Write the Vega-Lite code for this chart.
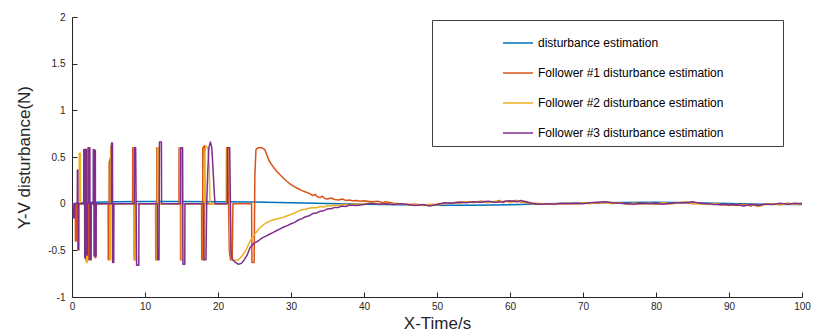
{
"$schema": "https://vega.github.io/schema/vega-lite/v6.json",
"width": 730, "height": 280,
"autosize": {"type": "none"},
"padding": {"left": 72, "top": 17, "right": 12, "bottom": 37},
"background": "white",
"config": {"view": {"stroke": null}, "font": "Liberation Sans"},
"datasets": {
"est": [{"t":0,"v":0},{"t":1,"v":0.008},{"t":3,"v":0.015},{"t":6,"v":0.02},{"t":10,"v":0.022},{"t":15,"v":0.022},{"t":20,"v":0.02},{"t":25,"v":0.017},{"t":30,"v":0.01},{"t":35,"v":0.003},{"t":40,"v":-0.005},{"t":45,"v":-0.012},{"t":50,"v":-0.017},{"t":55,"v":-0.018},{"t":60,"v":-0.012},{"t":65,"v":-0.002},{"t":70,"v":0.008},{"t":75,"v":0.013},{"t":80,"v":0.014},{"t":85,"v":0.01},{"t":90,"v":0.002},{"t":95,"v":-0.007},{"t":100,"v":-0.01}],
"f1": [{"t":0,"v":0},{"t":0.45,"v":0},{"t":0.47,"v":-0.4},{"t":0.62,"v":-0.4},{"t":0.64,"v":0},
{"t":1.75,"v":0},{"t":1.77,"v":0.58},{"t":1.85,"v":0.58},{"t":1.87,"v":-0.6},{"t":1.95,"v":-0.6},{"t":1.97,"v":0},
{"t":2.15,"v":0},{"t":2.17,"v":0.6},{"t":2.27,"v":0.6},{"t":2.29,"v":-0.6},{"t":2.42,"v":-0.6},{"t":2.44,"v":0},
{"t":3.05,"v":0},{"t":3.07,"v":0.57},{"t":3.15,"v":0.57},{"t":3.17,"v":-0.58},{"t":3.25,"v":-0.58},{"t":3.27,"v":0},
{"t":4.95,"v":0},{"t":4.97,"v":-0.6},{"t":5.07,"v":-0.6},{"t":5.09,"v":0.44},{"t":5.3,"v":0.5},{"t":5.36,"v":0.62},{"t":5.38,"v":0},
{"t":8.3,"v":0},{"t":8.32,"v":0.6},{"t":8.5,"v":0.6},{"t":8.52,"v":-0.6},{"t":8.65,"v":-0.6},{"t":8.67,"v":0},
{"t":11.45,"v":0},{"t":11.47,"v":-0.6},{"t":11.6,"v":-0.6},{"t":11.62,"v":0.6},{"t":11.78,"v":0.6},{"t":11.8,"v":0},
{"t":14.65,"v":0},{"t":14.67,"v":0.6},{"t":14.85,"v":0.6},{"t":14.87,"v":-0.6},{"t":15.05,"v":-0.6},{"t":15.07,"v":0},
{"t":17.75,"v":0},{"t":17.77,"v":-0.6},{"t":17.9,"v":-0.6},{"t":17.92,"v":0.6},{"t":18.15,"v":0.62},{"t":18.2,"v":0},
{"t":21.15,"v":0},{"t":21.17,"v":0.6},{"t":21.35,"v":0.6},{"t":21.45,"v":0},{"t":21.55,"v":-0.5},{"t":21.7,"v":-0.6},{"t":21.95,"v":-0.6},{"t":22.0,"v":-0.3},{"t":22.05,"v":0},
{"t":24.6,"v":0},{"t":24.65,"v":-0.63},{"t":24.95,"v":-0.63},{"t":25.05,"v":0.3},{"t":25.2,"v":0.58},{"t":25.5,"v":0.6},{"t":26.0,"v":0.6},{"t":26.4,"v":0.58},{"t":26.7,"v":0.52},{"t":27.0,"v":0.46},{"t":27.5,"v":0.4},{"t":28.0,"v":0.35},{"t":28.5,"v":0.31},{"t":29,"v":0.27},{"t":29.5,"v":0.235},{"t":30,"v":0.205},{"t":30.5,"v":0.18},{"t":31,"v":0.16},{"t":31.5,"v":0.14},{"t":32,"v":0.125},{"t":32.5,"v":0.11},{"t":33,"v":0.085},{"t":33.3,"v":0.1},{"t":33.6,"v":0.075},{"t":34,"v":0.065},{"t":34.3,"v":0.08},{"t":34.6,"v":0.055},{"t":35,"v":0.05},{"t":35.5,"v":0.06},{"t":36,"v":0.045},{"t":36.5,"v":0.04},{"t":37,"v":0.05},{"t":37.5,"v":0.035},{"t":38,"v":0.04},{"t":38.5,"v":0.03},{"t":39,"v":0.035},{"t":39.5,"v":0.025},
{"t":40,"v":0.03},{"t":41,"v":0.02},{"t":42,"v":0.025},{"t":42.5,"v":0.01},{"t":43,"v":0.02},{"t":44,"v":0.005},{"t":45,"v":0},{"t":46,"v":-0.01},{"t":47,"v":-0.005},{"t":48,"v":-0.015},{"t":49,"v":-0.01},{"t":50,"v":-0.005},{"t":51,"v":0.005},{"t":52,"v":0.01},{"t":53,"v":0.015},{"t":54,"v":0.02},{"t":55,"v":0.015},{"t":56,"v":0.025},{"t":57,"v":0.02},{"t":58,"v":0.015},{"t":58.5,"v":0.035},{"t":59,"v":0.01},{"t":59.5,"v":0.03},{"t":60,"v":0.015},{"t":60.5,"v":0.03},{"t":61,"v":0.035},{"t":61.5,"v":0.015},{"t":62,"v":0.025},{"t":63,"v":0.005},{"t":64,"v":0},{"t":65,"v":-0.005},{"t":66,"v":0},{"t":67,"v":-0.005},{"t":68,"v":0.005},{"t":69,"v":0},{"t":70,"v":0.005},{"t":71,"v":0.01},{"t":72,"v":0.005},{"t":73,"v":0.02},{"t":74,"v":0.005},{"t":75,"v":0.01},{"t":76,"v":0},{"t":77,"v":0.005},{"t":78,"v":0},{"t":79,"v":0.005},{"t":80,"v":-0.005},{"t":81,"v":0.005},{"t":82,"v":0},{"t":83,"v":0.01},{"t":84,"v":0.015},{"t":85,"v":0},{"t":86,"v":0.005},{"t":87,"v":-0.005},{"t":88,"v":0},{"t":89,"v":-0.015},{"t":90,"v":-0.005},{"t":91,"v":-0.02},{"t":92,"v":-0.005},{"t":93,"v":-0.025},{"t":93.5,"v":-0.005},{"t":94,"v":-0.02},{"t":95,"v":-0.005},{"t":96,"v":0},{"t":97,"v":-0.01},{"t":98,"v":0.005},{"t":99,"v":-0.005},{"t":100,"v":0.005}],
"f2": [{"t":0,"v":0},{"t":0.85,"v":0},{"t":0.87,"v":-0.5},{"t":0.97,"v":-0.5},{"t":0.99,"v":0.54},{"t":1.15,"v":0.54},{"t":1.17,"v":0},
{"t":1.95,"v":0},{"t":1.97,"v":-0.63},{"t":2.08,"v":-0.63},{"t":2.1,"v":0},
{"t":5.2,"v":0},{"t":5.22,"v":-0.6},{"t":5.3,"v":-0.6},{"t":5.32,"v":0.55},{"t":5.42,"v":0.6},{"t":5.44,"v":0},
{"t":8.45,"v":0},{"t":8.47,"v":0.6},{"t":8.6,"v":0.6},{"t":8.62,"v":-0.6},{"t":8.75,"v":-0.6},{"t":8.77,"v":0},
{"t":11.55,"v":0},{"t":11.57,"v":-0.6},{"t":11.7,"v":-0.6},{"t":11.72,"v":0.6},{"t":11.88,"v":0.6},{"t":11.9,"v":0},
{"t":14.75,"v":0},{"t":14.77,"v":0.6},{"t":14.95,"v":0.6},{"t":14.97,"v":-0.6},{"t":15.1,"v":-0.6},{"t":15.12,"v":0},
{"t":18.0,"v":0},{"t":18.02,"v":-0.6},{"t":18.15,"v":-0.6},{"t":18.2,"v":0.55},{"t":18.35,"v":0.62},{"t":18.6,"v":0.6},{"t":18.8,"v":0.4},{"t":18.9,"v":0},
{"t":21.25,"v":0},{"t":21.27,"v":0.6},{"t":21.5,"v":0.6},{"t":21.6,"v":0},{"t":21.7,"v":-0.5},{"t":21.9,"v":-0.6},{"t":22.3,"v":-0.61},{"t":22.8,"v":-0.6},{"t":23.3,"v":-0.56},{"t":23.8,"v":-0.5},{"t":24.4,"v":-0.4},{"t":25,"v":-0.33},{"t":25.5,"v":-0.28},{"t":26,"v":-0.24},{"t":26.5,"v":-0.21},{"t":27,"v":-0.19},{"t":27.5,"v":-0.175},{"t":28,"v":-0.165},{"t":28.5,"v":-0.155},{"t":29,"v":-0.145},{"t":29.5,"v":-0.13},{"t":30,"v":-0.115},{"t":30.5,"v":-0.1},{"t":31,"v":-0.08},{"t":31.5,"v":-0.065},{"t":32,"v":-0.06},{"t":32.5,"v":-0.05},{"t":33,"v":-0.04},{"t":33.5,"v":-0.045},{"t":34,"v":-0.03},{"t":34.5,"v":-0.035},{"t":35,"v":-0.02},{"t":35.5,"v":-0.025},{"t":36,"v":-0.015},{"t":36.5,"v":-0.02},{"t":37,"v":-0.01},{"t":38,"v":-0.01},{"t":39,"v":-0.005},
{"t":40,"v":0},{"t":41,"v":0.01},{"t":42,"v":-0.005},{"t":43,"v":0.005},{"t":44,"v":-0.005},{"t":45,"v":0},{"t":46,"v":-0.015},{"t":47,"v":-0.01},{"t":48,"v":-0.02},{"t":49,"v":-0.01},{"t":50,"v":-0.015},{"t":51,"v":0},{"t":52,"v":0.01},{"t":53,"v":0.005},{"t":54,"v":0.02},{"t":55,"v":0.01},{"t":56,"v":0.02},{"t":57,"v":0.01},{"t":58,"v":0.025},{"t":59,"v":0.02},{"t":59.5,"v":0.03},{"t":60,"v":0.01},{"t":61,"v":0.03},{"t":62,"v":0.01},{"t":63,"v":0},{"t":64,"v":0.005},{"t":65,"v":-0.01},{"t":66,"v":0},{"t":67,"v":-0.005},{"t":68,"v":0.005},{"t":69,"v":-0.005},{"t":70,"v":0.01},{"t":71,"v":0},{"t":72,"v":0.015},{"t":73,"v":0.01},{"t":74,"v":0},{"t":75,"v":0.01},{"t":76,"v":-0.005},{"t":77,"v":0.005},{"t":78,"v":-0.005},{"t":79,"v":0.005},{"t":80,"v":0},{"t":81,"v":0.01},{"t":82,"v":0},{"t":83,"v":0.005},{"t":84,"v":0.02},{"t":85,"v":0.005},{"t":86,"v":0},{"t":87,"v":-0.01},{"t":88,"v":0.005},{"t":89,"v":-0.01},{"t":90,"v":-0.02},{"t":91,"v":-0.005},{"t":92,"v":-0.02},{"t":93,"v":-0.01},{"t":94,"v":-0.03},{"t":95,"v":-0.01},{"t":96,"v":0},{"t":97,"v":-0.015},{"t":98,"v":0},{"t":99,"v":-0.005},{"t":100,"v":0}],
"f3": [{"t":0,"v":0},{"t":0.15,"v":0},{"t":0.17,"v":-0.15},{"t":0.35,"v":-0.15},{"t":0.37,"v":0},
{"t":0.72,"v":0},{"t":0.74,"v":0.36},{"t":0.8,"v":0.36},{"t":0.82,"v":-0.49},{"t":0.9,"v":-0.49},{"t":0.92,"v":0},
{"t":1.6,"v":0},{"t":1.62,"v":0.58},{"t":1.72,"v":0.58},{"t":1.74,"v":-0.58},{"t":1.84,"v":-0.58},{"t":1.86,"v":0.58},{"t":1.98,"v":0.58},{"t":2.0,"v":-0.55},{"t":2.1,"v":-0.55},{"t":2.12,"v":0},
{"t":2.3,"v":0},{"t":2.32,"v":0.6},{"t":2.45,"v":0.6},{"t":2.47,"v":-0.6},{"t":2.62,"v":-0.6},{"t":2.64,"v":0},
{"t":2.9,"v":0},{"t":2.92,"v":0.58},{"t":3.0,"v":0.58},{"t":3.02,"v":-0.56},{"t":3.1,"v":-0.56},{"t":3.12,"v":0.57},{"t":3.2,"v":0.57},{"t":3.22,"v":-0.56},{"t":3.3,"v":-0.56},{"t":3.32,"v":0},
{"t":5.4,"v":0},{"t":5.42,"v":0.65},{"t":5.55,"v":0.65},{"t":5.57,"v":-0.63},{"t":5.72,"v":-0.63},{"t":5.74,"v":0},
{"t":8.53,"v":0},{"t":8.55,"v":0.6},{"t":8.72,"v":0.6},{"t":8.85,"v":-0.66},{"t":9.15,"v":-0.66},{"t":9.17,"v":0},
{"t":11.7,"v":0},{"t":11.72,"v":-0.6},{"t":11.92,"v":-0.6},{"t":11.98,"v":0.66},{"t":12.25,"v":0.66},{"t":12.27,"v":0},
{"t":14.85,"v":0},{"t":14.87,"v":0.6},{"t":15.15,"v":0.6},{"t":15.2,"v":-0.65},{"t":15.45,"v":-0.65},{"t":15.47,"v":0},
{"t":18.05,"v":0},{"t":18.07,"v":-0.6},{"t":18.35,"v":-0.6},{"t":18.45,"v":0},{"t":18.6,"v":0.35},{"t":18.75,"v":0.6},{"t":18.95,"v":0.66},{"t":19.15,"v":0.6},{"t":19.3,"v":0.4},{"t":19.5,"v":0.1},{"t":19.6,"v":0},
{"t":21.3,"v":0},{"t":21.32,"v":0.6},{"t":21.6,"v":0.6},{"t":21.7,"v":0},{"t":21.8,"v":-0.55},{"t":22.0,"v":-0.6},{"t":22.4,"v":-0.63},{"t":22.8,"v":-0.65},{"t":23.2,"v":-0.64},{"t":23.6,"v":-0.6},{"t":24.0,"v":-0.55},{"t":24.4,"v":-0.47},{"t":25,"v":-0.42},{"t":25.5,"v":-0.4},{"t":26,"v":-0.37},{"t":26.5,"v":-0.35},{"t":27,"v":-0.33},{"t":27.5,"v":-0.31},{"t":28,"v":-0.29},{"t":28.5,"v":-0.27},{"t":29,"v":-0.25},{"t":29.5,"v":-0.235},{"t":30,"v":-0.215},{"t":30.5,"v":-0.2},{"t":31,"v":-0.175},{"t":31.5,"v":-0.16},{"t":32,"v":-0.14},{"t":32.5,"v":-0.13},{"t":33,"v":-0.105},{"t":33.5,"v":-0.1},{"t":34,"v":-0.08},{"t":34.5,"v":-0.075},{"t":35,"v":-0.055},{"t":35.5,"v":-0.055},{"t":36,"v":-0.04},{"t":36.5,"v":-0.04},{"t":37,"v":-0.025},{"t":37.5,"v":-0.03},{"t":38,"v":-0.015},{"t":39,"v":-0.02},
{"t":40,"v":-0.01},{"t":41,"v":0.005},{"t":42,"v":-0.005},{"t":43,"v":0},{"t":44,"v":-0.01},{"t":45,"v":0},{"t":46,"v":-0.01},{"t":47,"v":-0.02},{"t":48,"v":-0.01},{"t":49,"v":-0.025},{"t":50,"v":-0.01},{"t":51,"v":0.01},{"t":52,"v":0.005},{"t":53,"v":0.015},{"t":54,"v":0.01},{"t":55,"v":0.02},{"t":56,"v":0.015},{"t":57,"v":0.025},{"t":58,"v":0.015},{"t":59,"v":0.02},{"t":60,"v":0.03},{"t":61,"v":0.02},{"t":61.5,"v":0.035},{"t":62,"v":0.02},{"t":63,"v":0.005},{"t":64,"v":-0.005},{"t":65,"v":0},{"t":66,"v":-0.005},{"t":67,"v":0.005},{"t":68,"v":0},{"t":69,"v":0.005},{"t":70,"v":0},{"t":71,"v":0.01},{"t":72,"v":0.015},{"t":73,"v":0.02},{"t":74,"v":0.01},{"t":75,"v":0.005},{"t":76,"v":0},{"t":77,"v":-0.005},{"t":78,"v":0.005},{"t":79,"v":0},{"t":80,"v":0.005},{"t":81,"v":-0.005},{"t":82,"v":0.005},{"t":83,"v":0.01},{"t":84,"v":0.01},{"t":85,"v":0.02},{"t":86,"v":0.005},{"t":87,"v":0},{"t":88,"v":-0.01},{"t":89,"v":-0.005},{"t":90,"v":-0.015},{"t":91,"v":-0.01},{"t":92,"v":-0.025},{"t":93,"v":-0.01},{"t":94,"v":-0.02},{"t":95,"v":-0.005},{"t":96,"v":-0.01},{"t":97,"v":0.005},{"t":98,"v":-0.005},{"t":99,"v":0.005},{"t":100,"v":0}]
},
"encoding": {
  "x": {"field": "t", "type": "quantitative", "scale": {"domain": [0, 100], "nice": false},
    "axis": {"title": "X-Time/s", "values": [0,10,20,30,40,50,60,70,80,90,100], "grid": false,
      "domainColor": "#262626", "tickColor": "#262626", "tickSize": -5, "labelPadding": 9,
      "labelFontSize": 10, "labelColor": "#262626", "titleFontSize": 17, "titleFontWeight": "normal",
      "titleColor": "#262626", "titlePadding": 4, "labelFlush": false}},
  "y": {"field": "v", "type": "quantitative", "scale": {"domain": [-1, 2], "nice": false},
    "axis": {"title": "Y-V disturbance(N)", "values": [-1,-0.5,0,0.5,1,1.5,2], "grid": false,
      "labelExpr": "'' + datum.value",
      "domainColor": "#262626", "tickColor": "#262626", "tickSize": -5, "labelPadding": 12,
      "labelFontSize": 10, "labelColor": "#262626", "titleFontSize": 17, "titleFontWeight": "normal",
      "titleColor": "#262626", "titlePadding": 14, "labelFlush": false}}
},
"layer": [
  {"data": {"name": "est"}, "mark": {"type": "line", "strokeWidth": 1.5, "strokeJoin": "round"},
   "encoding": {"color": {"datum": "disturbance estimation", "type": "nominal",
     "scale": {"domain": ["disturbance estimation", "Follower #1 disturbance estimation", "Follower #2 disturbance estimation", "Follower #3 disturbance estimation"],
               "range": ["#0072BD", "#D95319", "#EDB120", "#7E2F8E"]},
     "legend": {"orient": "none", "legendX": 360, "legendY": 3, "title": " ", "titleOrient": "right", "titlePadding": 53,
       "strokeColor": "#404040", "fillColor": "white", "padding": 7, "symbolType": "stroke", "symbolSize": 900,
       "symbolStrokeWidth": 1.5, "symbolOffset": 63, "labelFontSize": 12, "labelColor": "#000000", "labelOffset": 4,
       "rowPadding": 8, "labelLimit": 400}}}},
  {"data": {"name": "f1"}, "mark": {"type": "line", "strokeWidth": 1.5, "strokeJoin": "round"},
   "encoding": {"color": {"datum": "Follower #1 disturbance estimation", "type": "nominal"}}},
  {"data": {"name": "f2"}, "mark": {"type": "line", "strokeWidth": 1.5, "strokeJoin": "round"},
   "encoding": {"color": {"datum": "Follower #2 disturbance estimation", "type": "nominal"}}},
  {"data": {"name": "f3"}, "mark": {"type": "line", "strokeWidth": 1.5, "strokeJoin": "round"},
   "encoding": {"color": {"datum": "Follower #3 disturbance estimation", "type": "nominal"}}}
]
}
